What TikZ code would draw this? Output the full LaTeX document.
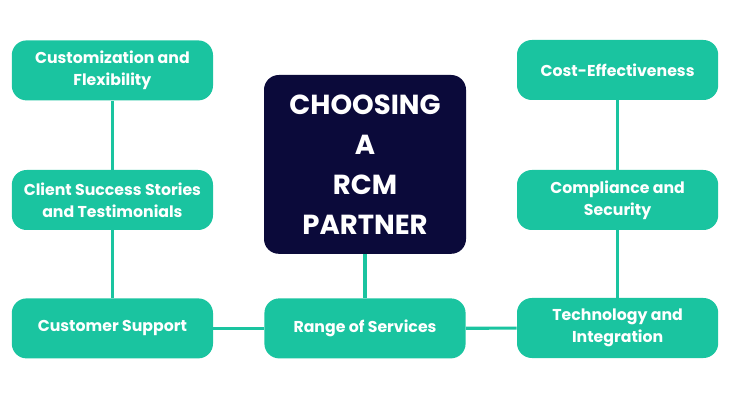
\documentclass[tikz,border=0pt]{standalone}
\usepackage{fontspec}
\setmainfont{Poppins}
\usepackage{tikz}
\usetikzlibrary{positioning}

\definecolor{rcmteal}{RGB}{26,196,160}
\definecolor{rcmnavy}{RGB}{11,10,58}

\tikzset{
  itembox/.style={rounded corners=0.37cm, fill=rcmteal, text=white, minimum width=5.03cm, minimum height=1.5cm, align=center, font=\bfseries\fontsize{11.2}{15.8}\selectfont},
  titlebox/.style={rounded corners=0.37cm, fill=rcmnavy, text=white, minimum width=5.05cm, minimum height=4.47cm, align=center, font=\bfseries\fontsize{19.6}{28.5}\selectfont},
  link/.style={draw=rcmteal, line width=2.2pt}
}

\begin{document}
\begin{tikzpicture}
\useasboundingbox (0,0) rectangle (18.25,-10);

% Left column
\node[itembox] (custom) at (2.81,-1.76){Customization and\\Flexibility};
\node[itembox] (client) at (2.81,-5.0){Client Success Stories\\and Testimonials};
\node[itembox] (support) at (2.81,-8.21){Customer Support};

% Center box and services
\node[titlebox] (title) at (9.125,-4.11){CHOOSING\\A\\RCM\\PARTNER};
\node[itembox] (range) at (9.125,-8.21){Range of Services};

% Right column
\node[itembox] (cost) at (15.44,-1.75){Cost-Effectiveness};
\node[itembox] (comply) at (15.44,-5.0){Compliance and\\Security};
\node[itembox] (tech) at (15.44,-8.2){Technology and\\Integration};

% Connectors
\draw[link] (custom) -- (client);
\draw[link] (client) -- (support);
\draw[link] (support) -- (range);
\draw[link] (title) -- (range);
\draw[link] (range) -- (tech);
\draw[link] (cost) -- (comply);
\draw[link] (comply) -- (tech);

\end{tikzpicture}
\end{document}
